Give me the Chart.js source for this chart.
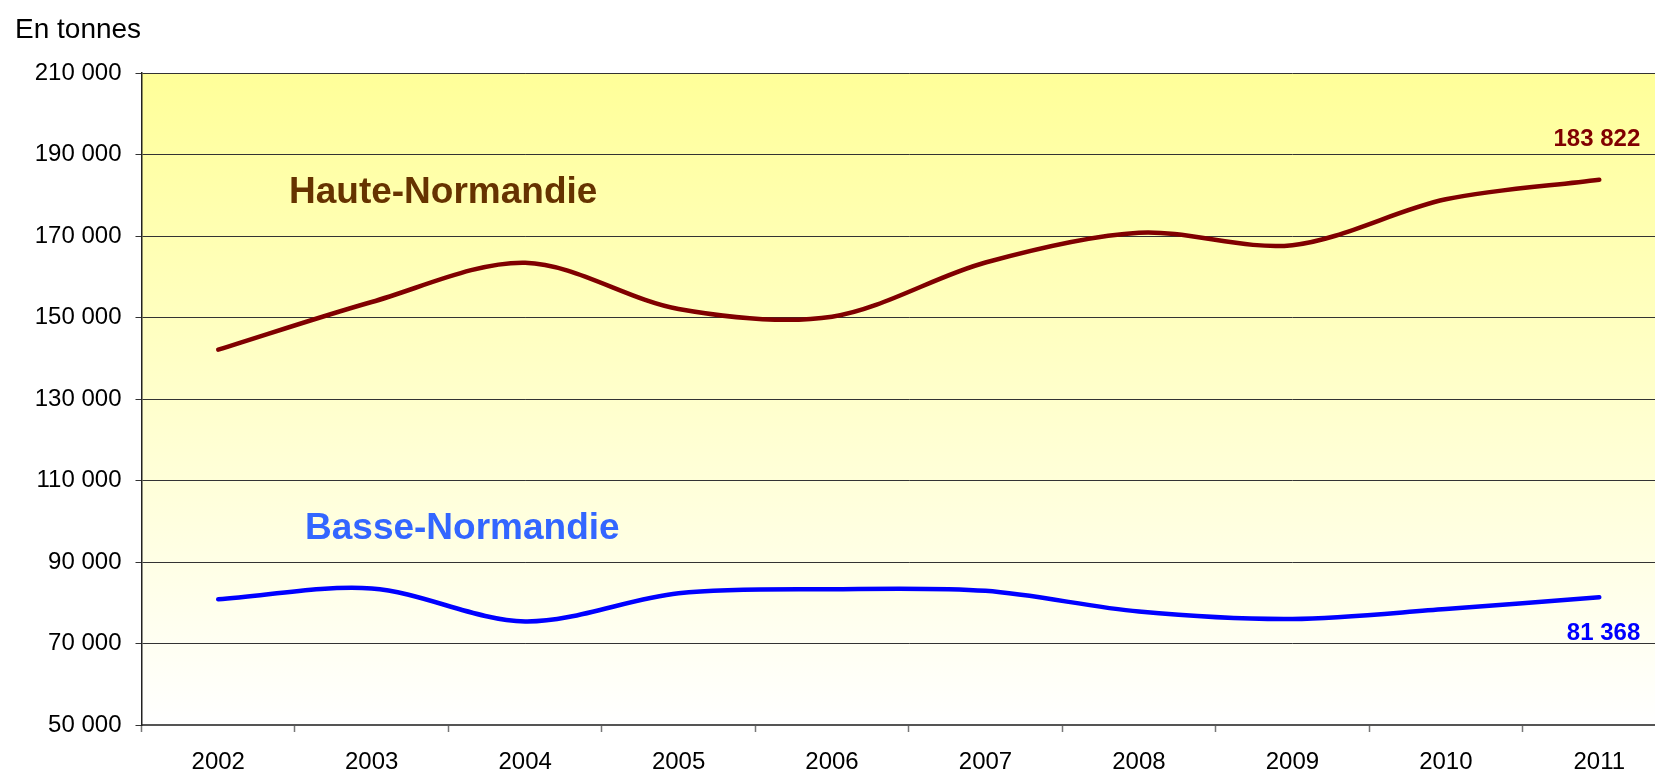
<!DOCTYPE html>
<html lang="fr">
<head>
<meta charset="UTF-8">
<title>En tonnes</title>
<style>
    html, body { margin: 0; padding: 0; background: #fff; overflow: hidden; }
    #wrap { width: 1655px; height: 776px; overflow: hidden; }
</style>
</head>
<body>
<div id="wrap"><canvas id="chart" width="1690" height="776"></canvas></div>
<script src="https://cdn.jsdelivr.net/npm/chart.js@4"></script>
<script>
    const years = ['2002', '2003', '2004', '2005', '2006', '2007', '2008', '2009', '2010', '2011'];
    const haute = [142100, 153800, 163450, 152100, 150200, 163500, 170800, 167750, 179000, 183822];
    const basse = [80830, 83500, 75420, 82330, 83330, 82920, 77830, 76000, 78450, 81368];
    const yTicks = [50000, 70000, 90000, 110000, 130000, 150000, 170000, 190000, 210000];

    const FONT = "'Liberation Sans', Arial, sans-serif";
    const fmt = (v) => String(v).replace(/\B(?=(\d{3})+(?!\d))/g, ' ');

    // fond dégradé jaune -> blanc dans la zone de tracé
    const bgPlugin = {
        id: 'bg',
        beforeDraw(chart) {
            const { ctx, chartArea: a } = chart;
            const g = ctx.createLinearGradient(0, a.top, 0, a.bottom);
            g.addColorStop(0, '#ffff99');
            g.addColorStop(1, '#ffffff');
            ctx.save();
            ctx.fillStyle = g;
            ctx.fillRect(a.left, a.top, a.right - a.left, a.bottom - a.top);
            ctx.restore();
        }
    };

    // textes : unité, noms des régions, dernières valeurs
    const textPlugin = {
        id: 'texts',
        afterDatasetsDraw(chart) {
            const { ctx } = chart;
            const x = chart.scales.x, y = chart.scales.y;
            ctx.save();
            ctx.textBaseline = 'alphabetic';
            ctx.textAlign = 'left';
            ctx.fillStyle = '#000';
            ctx.font = '28px ' + FONT;
            ctx.fillText('En tonnes', 15, 38);

            ctx.font = 'bold 37px ' + FONT;
            ctx.fillStyle = '#663300';
            ctx.fillText('Haute-Normandie', 289, 203);
            ctx.fillStyle = '#3366ff';
            ctx.fillText('Basse-Normandie', 305, 539);

            const last = years.length - 1;
            const lx = x.getPixelForValue(last) + 41;
            ctx.textAlign = 'right';
            ctx.font = 'bold 24px ' + FONT;
            ctx.fillStyle = '#800000';
            ctx.fillText(fmt(haute[last]), lx, y.getPixelForValue(haute[last]) - 34);
            ctx.fillStyle = '#0000ff';
            ctx.fillText(fmt(basse[last]), lx, y.getPixelForValue(basse[last]) + 43);
            ctx.restore();
        }
    };

    new Chart(document.getElementById('chart'), {
        type: 'line',
        data: {
            labels: years,
            datasets: [
                {
                    label: 'Haute-Normandie',
                    data: haute,
                    borderColor: '#800000',
                    borderWidth: 4.5,
                    pointRadius: 0,
                    tension: 0.32,
                    borderCapStyle: 'round',
                    borderJoinStyle: 'round'
                },
                {
                    label: 'Basse-Normandie',
                    data: basse,
                    borderColor: '#0000ff',
                    borderWidth: 4.5,
                    pointRadius: 0,
                    tension: 0.32,
                    borderCapStyle: 'round',
                    borderJoinStyle: 'round'
                }
            ]
        },
        options: {
            responsive: false,
            animation: false,
            layout: { padding: { top: 73, right: 14, bottom: 0, left: 0 } },
            plugins: {
                legend: { display: false },
                tooltip: { enabled: false }
            },
            scales: {
                x: {
                    offset: true,
                    grid: {
                        offset: true,
                        drawOnChartArea: false,
                        tickLength: 7,
                        tickColor: '#777',
                        tickWidth: 1.5
                    },
                    border: { color: '#555', width: 2 },
                    ticks: {
                        color: '#000',
                        font: { family: FONT, size: 24 },
                        padding: 16,
                        maxRotation: 0,
                        autoSkip: false
                    },
                    afterFit(s) { s.height = 51; }
                },
                y: {
                    min: 50000,
                    max: 210000,
                    afterBuildTicks(s) { s.ticks = yTicks.map(v => ({ value: v })); },
                    grid: {
                        color: '#333',
                        lineWidth: 1,
                        tickLength: 6,
                        tickColor: '#333'
                    },
                    border: { color: '#222', width: 1.5 },
                    ticks: {
                        color: '#000',
                        font: { family: FONT, size: 24 },
                        padding: 14,
                        callback: (v) => fmt(v)
                    },
                    afterFit(s) { s.width = 141.5; }
                }
            }
        },
        plugins: [bgPlugin, textPlugin]
    });
</script>
</body>
</html>
